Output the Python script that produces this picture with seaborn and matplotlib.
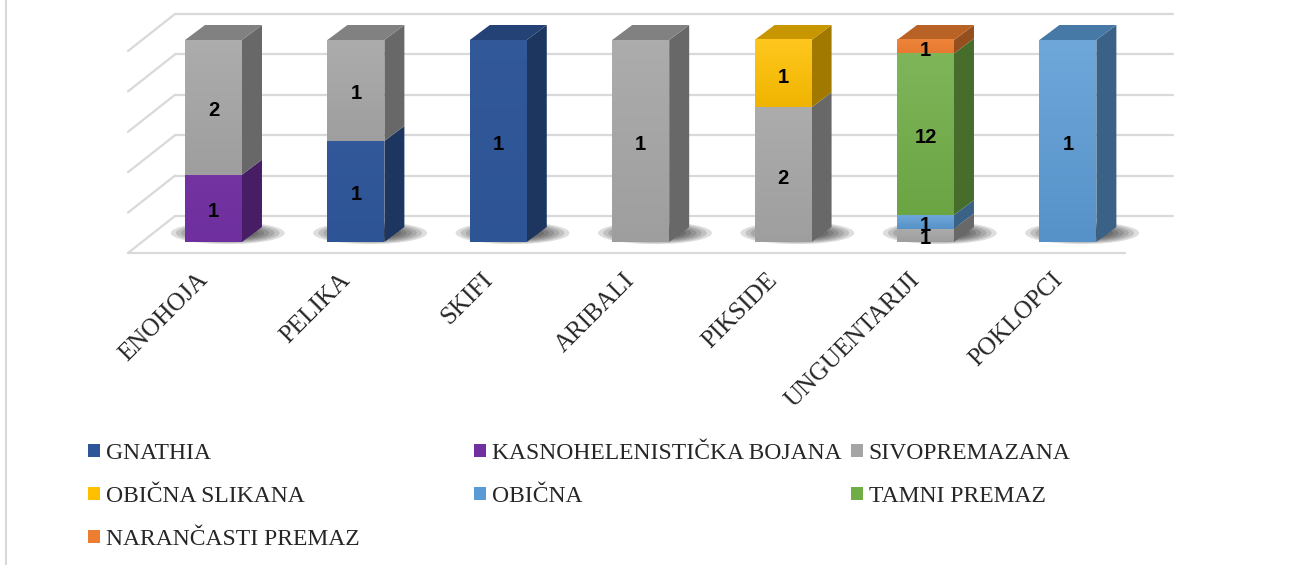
import numpy as np
import seaborn as sns
import matplotlib.pyplot as plt
from matplotlib.patches import Polygon, Ellipse, Patch
from matplotlib.lines import Line2D
from matplotlib.colors import to_rgb
from matplotlib.transforms import ScaledTranslation

categories = ["ENOHOJA", "PELIKA", "SKIFI", "ARIBALI", "PIKSIDE", "UNGUENTARIJI", "POKLOPCI"]

series_names = ["GNATHIA", "KASNOHELENISTIČKA BOJANA", "SIVOPREMAZANA",
                "OBIČNA SLIKANA", "OBIČNA", "TAMNI PREMAZ", "NARANČASTI PREMAZ"]
gnathia = [0, 1, 1, 0, 0, 0, 0]
kasnohelenisticka = [1, 0, 0, 0, 0, 0, 0]
sivopremazana = [2, 1, 0, 1, 2, 1, 0]
obicna_slikana = [0, 0, 0, 0, 1, 0, 0]
obicna = [0, 0, 0, 0, 0, 1, 1]
tamni_premaz = [0, 0, 0, 0, 0, 12, 0]
narancasti_premaz = [0, 0, 0, 0, 0, 1, 0]

series_colors = ["#2e5597", "#7030a0", "#a5a5a5", "#ffc000", "#5b9bd5", "#70ad47", "#ed7d31"]
grad_amount = [0.02, 0.02, 0.08, 0.12, 0.12, 0.1, 0.05]

grid_levels = [0, 0.2, 0.4, 0.6, 0.8, 1.0]

sns.set_style("white")
plt.rcParams["font.family"] = ["Liberation Serif", "DejaVu Serif"]

W, H = 1291, 565
fig = plt.figure(figsize=(W / 100, H / 100), dpi=100, facecolor="white")

# pixel <-> data helpers (first bar centre at 213.5 px, baseline at 242 px)
PX_X, PX_Y = 142.4, 202.0
def X(px):
    return (px - 213.5) / PX_X
def Y(px):
    return (242 - px) / PX_Y

ax = fig.add_axes([128 / W, 1 - 253 / H, (1173 - 128) / W, 253 / H])

def shade(c, f):
    r, g, b = to_rgb(c)
    return (r * f, g * f, b * f)

def tint(c, f):
    r, g, b = to_rgb(c)
    return (r + (1 - r) * f, g + (1 - g) * f, b + (1 - b) * f)

data = np.array([gnathia, kasnohelenisticka, sivopremazana, obicna_slikana,
                 obicna, tamni_premaz, narancasti_premaz], dtype=float)
totals = data.sum(axis=0)
fracs = data / totals

# stacked 100% bars
bottom = np.zeros(len(categories))
for name, fr, col in zip(series_names, fracs, series_colors):
    sns.barplot(x=categories, y=fr, bottom=bottom, color=col, saturation=1,
                width=0.4, errorbar=None, linewidth=0, zorder=3, ax=ax)
    bottom = bottom + fr

# fake 3D: side faces, top faces, gradient on fronts
DX, DY = 20 / PX_X, 15 / PX_Y
for cont, col, vals, ga in zip(ax.containers, series_colors, data, grad_amount):
    for rect in cont:
        x, y, w, h = rect.get_x(), rect.get_y(), rect.get_width(), rect.get_height()
        if h <= 0:
            continue
        ax.add_patch(Polygon([(x + w, y), (x + w + DX, y + DY), (x + w + DX, y + h + DY), (x + w, y + h)],
                             closed=True, facecolor=shade(col, 0.63), lw=0, zorder=3))
        if y + h > 0.999:
            ax.add_patch(Polygon([(x, y + h), (x + DX, y + h + DY), (x + w + DX, y + h + DY), (x + w, y + h)],
                                 closed=True, facecolor=shade(col, 0.78), lw=0, zorder=3))
        top_c = np.array(tint(col, ga))
        bot_c = np.array(shade(col, 1 - ga * 0.5))
        t = np.linspace(0, 1, 64)[:, None]
        grad = (top_c * (1 - t) + bot_c * t)[:, None, :]
        ax.imshow(grad, extent=[x, x + w, y, y + h], origin="upper", aspect="auto",
                  interpolation="bilinear", zorder=3.1)
    anns = ax.bar_label(cont, labels=[f"{int(v)}" if v else "" for v in vals], label_type="center",
                        fontsize=14.5, fontweight="bold", family="Liberation Sans", color="black", zorder=6)
    for a in anns:
        a.xyann = (0, -2.5)

# soft shadows on the floor
for i in range(len(categories)):
    for k in range(8):
        s = 1 - k * 0.09
        ax.add_patch(Ellipse((i + 0.1, Y(233)), 0.8 * s, 0.11 * s, facecolor="black",
                             alpha=0.13, lw=0, zorder=1))

# walls / grid
gc = "#d9d9d9"
for v in grid_levels:
    yb = v + Y(216)
    ax.plot([X(175), X(1173)], [yb, yb], color=gc, lw=1.6, zorder=0.5, clip_on=False)
    ax.plot([X(128), X(175)], [yb - 37 / PX_Y, yb], color=gc, lw=1.6, zorder=0.5, clip_on=False)
ax.plot([X(128), X(1125)], [Y(253), Y(253)], color=gc, lw=1.6, zorder=0.5, clip_on=False)

ax.set_xlim(X(128), X(1173))
ax.set_ylim(Y(253), Y(0))
ax.set_yticks([])
ax.set_xticks(range(len(categories)))
ax.set_xticklabels(categories, rotation=45, ha="right", va="center",
                   rotation_mode="anchor", fontsize=18)
ax.tick_params(axis="x", length=0, pad=17)
shift = ScaledTranslation(-9 / 100, 0, fig.dpi_scale_trans)
for lab in ax.get_xticklabels():
    lab.set_transform(lab.get_transform() + shift)
ax.set_xlabel("")
ax.set_ylabel("")
sns.despine(ax=ax, left=True, bottom=True)

# legend in three columns (filled row by row)
handles = [Patch(facecolor=c, edgecolor="none") for c in series_colors]
col_x = [88, 474, 851]
for ci, cx in enumerate(col_x):
    idx = list(range(ci, len(series_names), 3))
    fig.legend([handles[j] for j in idx], [series_names[j] for j in idx],
               loc="upper left", bbox_to_anchor=(cx / W, 1 - 443 / H),
               frameon=False, fontsize=17, borderpad=0, borderaxespad=0,
               handlelength=0.5, handleheight=0.5, handletextpad=0.25,
               labelspacing=0.93)

# left border of the chart area
fig.add_artist(Line2D([6 / W, 6 / W], [0, 1], transform=fig.transFigure, color=gc, lw=1.5))

fig.savefig("out.png", dpi=100, facecolor="white")
